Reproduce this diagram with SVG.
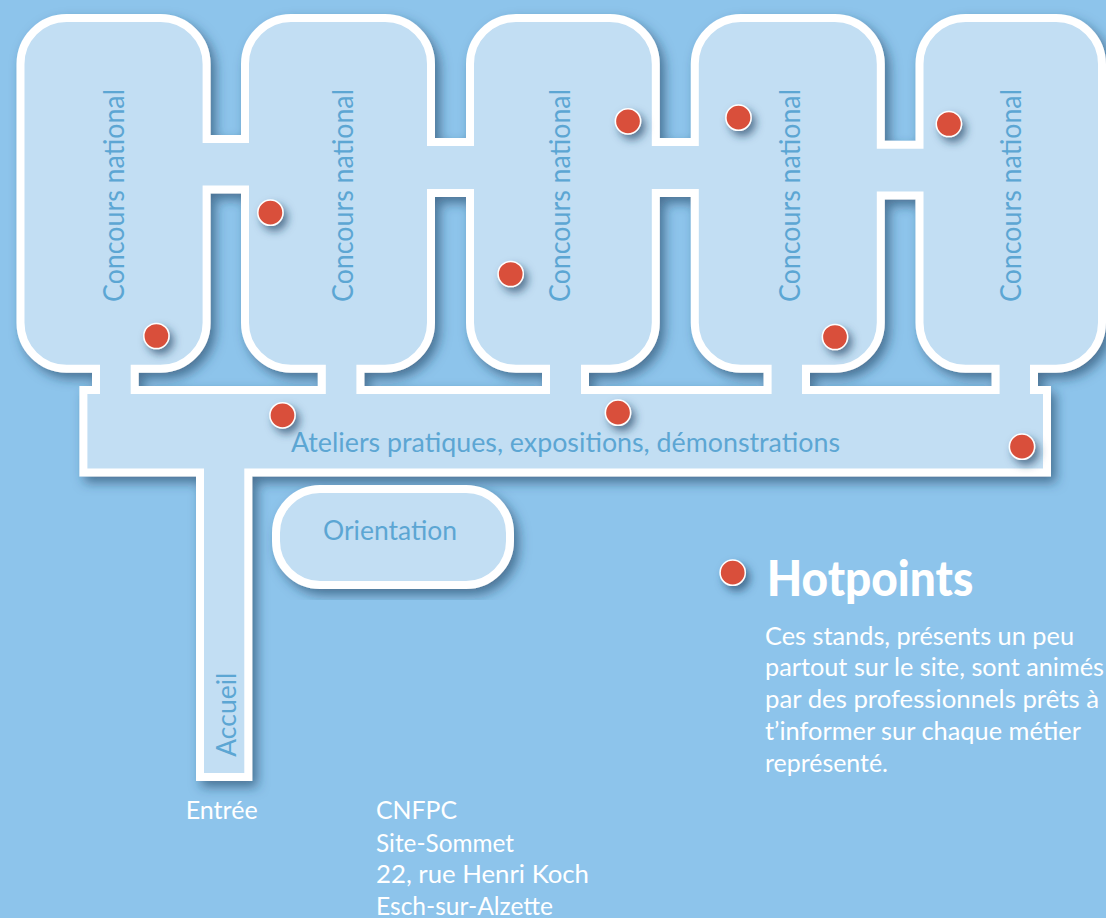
<svg xmlns="http://www.w3.org/2000/svg" width="1106" height="918" viewBox="0 0 1106 918">
<defs>
<filter id="sh" x="-10%" y="-10%" width="125%" height="125%"><feDropShadow dx="5" dy="6" stdDeviation="6" flood-color="#1f3f5f" flood-opacity="0.62"/></filter>
<filter id="dsh" x="-80%" y="-80%" width="280%" height="280%"><feDropShadow dx="4" dy="5" stdDeviation="4" flood-color="#1f3f5f" flood-opacity="0.65"/></filter>
<style>
.room{fill:#c2def3;stroke:#fff;stroke-width:8;filter:url(#sh)}
.dot{fill:#d94f3b;stroke:#fff;stroke-width:1.5;filter:url(#dsh)}
text{font-family:"Lato","Liberation Sans",sans-serif;font-weight:400}
.lab{fill:#5ca6d3;font-size:29px}
.wh{fill:#fff;font-size:25px}
</style>
</defs>
<rect width="1106" height="918" fill="#8dc4eb"/>
<g id="plan">
<path class="room" fill-rule="evenodd" d="M20.5 64A46 46 0 0 1 66.5 18H160.6A46 46 0 0 1 206.6 64V139H245V64A46 46 0 0 1 291 18H385A46 46 0 0 1 431 64V142H470V64A46 46 0 0 1 516 18H609.8A46 46 0 0 1 655.8 64V142H694.8V64A46 46 0 0 1 740.8 18H834.8A46 46 0 0 1 880.8 64V144.7H919.5V64A46 46 0 0 1 965.5 18H1056A46 46 0 0 1 1102 64V322.7A46 46 0 0 1 1056 368.7H1034V390H1047V472.5H248.3V777H200V472.5H83.4V390H96V368.7H66.5A46 46 0 0 1 20.5 322.7Z
M206.6 189.5H245V322.7A46 46 0 0 0 291 368.7H321.8V390H134.7V368.7H160.6A46 46 0 0 0 206.6 322.7Z
M431 193H470V322.7A46 46 0 0 0 516 368.7H546V390H360.4V368.7H385A46 46 0 0 0 431 322.7Z
M655.8 193H694.8V322.7A46 46 0 0 0 740.8 368.7H767.6V390H585V368.7H609.8A46 46 0 0 0 655.8 322.7Z
M880.8 195.5H919.5V322.7A46 46 0 0 0 965.5 368.7H995.6V390H806V368.7H834.8A46 46 0 0 0 880.8 322.7Z"/>
<text class="lab" transform="translate(123.5 302) rotate(-90)" textLength="213" lengthAdjust="spacingAndGlyphs">Concours national</text>
<text class="lab" transform="translate(352.5 302) rotate(-90)" textLength="213" lengthAdjust="spacingAndGlyphs">Concours national</text>
<text class="lab" transform="translate(569.6 302) rotate(-90)" textLength="213" lengthAdjust="spacingAndGlyphs">Concours national</text>
<text class="lab" transform="translate(800.3 302) rotate(-90)" textLength="213" lengthAdjust="spacingAndGlyphs">Concours national</text>
<text class="lab" transform="translate(1021 302) rotate(-90)" textLength="213" lengthAdjust="spacingAndGlyphs">Concours national</text>
<text class="lab" x="291" y="451.7" style="font-size:27px" textLength="549" lengthAdjust="spacingAndGlyphs">Ateliers pratiques, expositions, démonstrations</text>
<text class="lab" transform="translate(235.7 756.7) rotate(-90)" style="font-size:27px" textLength="84" lengthAdjust="spacingAndGlyphs">Accueil</text>
</g>
<g id="orientation">
<rect class="room" x="276" y="489" width="234" height="96" rx="44" ry="44"/>
<text class="lab" x="323" y="540" style="font-size:27px" textLength="134" lengthAdjust="spacingAndGlyphs">Orientation</text>
</g>
<g id="hotpoints">
<circle class="dot" cx="156.4" cy="336" r="12.6"/>
<circle class="dot" cx="270.4" cy="212.7" r="12.6"/>
<circle class="dot" cx="510.7" cy="274" r="12.6"/>
<circle class="dot" cx="282.5" cy="415.3" r="12.6"/>
<circle class="dot" cx="628" cy="121.3" r="12.6"/>
<circle class="dot" cx="738.5" cy="117.7" r="12.6"/>
<circle class="dot" cx="948.9" cy="124" r="12.6"/>
<circle class="dot" cx="835" cy="337" r="12.6"/>
<circle class="dot" cx="618" cy="412.7" r="12.6"/>
<circle class="dot" cx="1022" cy="446.7" r="12.6"/>
</g>
<g id="legend">
<circle class="dot" cx="732.7" cy="572.7" r="12.6"/>
<text x="766.7" y="595.7" fill="#fff" style="font-size:50px;font-weight:900" textLength="206.6" lengthAdjust="spacingAndGlyphs">Hotpoints</text>
<text class="wh" x="765" y="645" textLength="309" lengthAdjust="spacingAndGlyphs">Ces stands, présents un peu</text>
<text class="wh" x="765" y="676" textLength="339" lengthAdjust="spacingAndGlyphs">partout sur le site, sont animés</text>
<text class="wh" x="765" y="707.7" textLength="334" lengthAdjust="spacingAndGlyphs">par des professionnels prêts à</text>
<text class="wh" x="765" y="740" textLength="316" lengthAdjust="spacingAndGlyphs">t’informer sur chaque métier</text>
<text class="wh" x="765" y="771.7" textLength="123" lengthAdjust="spacingAndGlyphs">représenté.</text>
</g>
<g id="entree"><text class="wh" x="185.7" y="819.3" textLength="72" lengthAdjust="spacingAndGlyphs">Entrée</text></g>
<g id="adresse">
<text class="wh" x="376" y="819.3" textLength="81" lengthAdjust="spacingAndGlyphs">CNFPC</text>
<text class="wh" x="376" y="851.7" textLength="138" lengthAdjust="spacingAndGlyphs">Site-Sommet</text>
<text class="wh" x="376" y="883.3" textLength="213" lengthAdjust="spacingAndGlyphs">22, rue Henri Koch</text>
<text class="wh" x="376" y="915" textLength="177" lengthAdjust="spacingAndGlyphs">Esch-sur-Alzette</text>
</g>
</svg>
